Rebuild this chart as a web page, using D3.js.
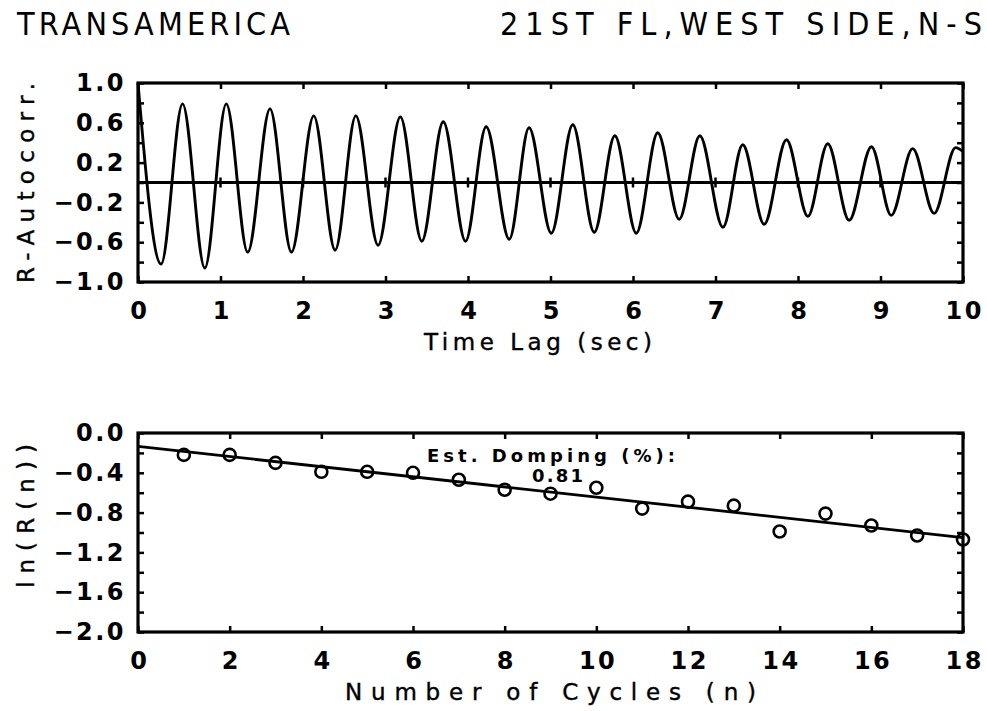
<!DOCTYPE html>
<html>
<head>
<meta charset="utf-8">
<script src="https://cdn.jsdelivr.net/npm/d3@7"></script>
<style>
  body { margin: 0; background: #fff; }
  svg { display: block; }
  .tick-label { font-family: "DejaVu Sans", "Liberation Sans", sans-serif; font-weight: bold; font-size: 24px; letter-spacing: 2.5px; fill: #000; }
  .axis-title { font-family: "DejaVu Sans", "Liberation Sans", sans-serif; font-size: 23px; fill: #000; stroke: #000; stroke-width: 0.4px; }
  .head { font-family: "DejaVu Sans Condensed", "Liberation Sans Narrow", "DejaVu Sans", sans-serif; font-size: 32px; fill: #000; }
  .note { font-family: "DejaVu Sans", "Liberation Sans", sans-serif; font-weight: bold; font-size: 18px; fill: #000; }
</style>
</head>
<body>
<svg id="chart" width="987" height="711"></svg>
<script>
// Autocorrelation extrema (time lag in seconds, correlation value)
const lagTimes = [0.00, 0.28, 0.54, 0.81, 1.07, 1.33, 1.60, 1.86, 2.13, 2.39,
                  2.64, 2.91, 3.18, 3.44, 3.70, 3.97, 4.22, 4.50, 4.74, 5.01,
                  5.27, 5.53, 5.78, 6.04, 6.30, 6.56, 6.81, 7.09, 7.33, 7.59,
                  7.86, 8.12, 8.36, 8.62, 8.89, 9.13, 9.39, 9.65, 9.91, 10.00];
const autocorr = [1.00, -0.82, 0.79, -0.86, 0.79, -0.70, 0.74, -0.70, 0.67, -0.68,
                  0.67, -0.63, 0.66, -0.59, 0.61, -0.59, 0.56, -0.57, 0.55, -0.51,
                  0.58, -0.50, 0.47, -0.51, 0.50, -0.37, 0.47, -0.45, 0.38, -0.42,
                  0.43, -0.34, 0.39, -0.38, 0.36, -0.33, 0.34, -0.31, 0.35, 0.31];

// Log of peak amplitude for each cycle
const cycles  = [1, 2, 3, 4, 5, 6, 7, 8, 9, 10, 11, 12, 13, 14, 15, 16, 17, 18];
const lnPeaks = [-0.22, -0.22, -0.30, -0.39, -0.39, -0.40, -0.47, -0.57, -0.61,
                 -0.55, -0.76, -0.69, -0.73, -0.99, -0.81, -0.93, -1.03, -1.07];

// Estimated damping ratio (%)
const dampingPct = 0.81;

// Titles and tick labels
const titleLeft = "TRANSAMERICA";
const titleRight = "21ST FL,WEST SIDE,N-S";
const lagTicks = [0, 1, 2, 3, 4, 5, 6, 7, 8, 9, 10];
const rTicks = [1.0, 0.6, 0.2, -0.2, -0.6, -1.0];
const rLabels = ["1.0", "0.6", "0.2", "\u22120.2", "\u22120.6", "\u22121.0"];
const rMinor = [1.0, 0.8, 0.6, 0.4, 0.2, 0, -0.2, -0.4, -0.6, -0.8, -1.0];
const cycleTicks = [0, 2, 4, 6, 8, 10, 12, 14, 16, 18];
const lnTicks = [0.0, -0.4, -0.8, -1.2, -1.6, -2.0];
const lnLabels = ["0.0", "\u22120.4", "\u22120.8", "\u22121.2", "\u22121.6", "\u22122.0"];
const lnMinor = [0, -0.2, -0.4, -0.6, -0.8, -1.0, -1.2, -1.4, -1.6, -1.8, -2.0];

const svg = d3.select("#chart");
const ink = "#000";

// ---------- Titles ----------
svg.append("text").attr("class", "head")
  .attr("x", 17).attr("y", 35)
  .attr("textLength", 273).attr("lengthAdjust", "spacing")
  .text(titleLeft);
svg.append("text").attr("class", "head")
  .attr("x", 500).attr("y", 35)
  .attr("textLength", 482).attr("lengthAdjust", "spacing")
  .text(titleRight);

// Helper: draw a framed panel with inward ticks on all four sides
function panel(x, y, xMajor, xLabels, yMajor, yLabels, yMinor) {
  const [x0, x1] = x.range();
  const [y1, y0] = y.range();
  const g = svg.append("g");
  const tick = 6;

  // Bottom axis with labels, ticks pointing inward
  const bottom = g.append("g").attr("transform", `translate(0,${y1})`)
    .call(d3.axisBottom(x).tickValues(xMajor)
      .tickFormat((d, i) => xLabels[i]).tickSizeInner(-tick).tickSizeOuter(0).tickPadding(20));
  // Top axis ticks only
  const top = g.append("g").attr("transform", `translate(0,${y0})`)
    .call(d3.axisTop(x).tickValues(xMajor).tickFormat("").tickSizeInner(-tick).tickSizeOuter(0));
  // Left axis with labels
  const left = g.append("g").attr("transform", `translate(${x0},0)`)
    .call(d3.axisLeft(y).tickValues(yMajor)
      .tickFormat((d, i) => yLabels[i]).tickSize(0).tickPadding(12));
  // Left and right minor ticks
  const leftMinor = g.append("g").attr("transform", `translate(${x0},0)`)
    .call(d3.axisLeft(y).tickValues(yMinor).tickFormat("").tickSizeInner(-tick).tickSizeOuter(0));
  const right = g.append("g").attr("transform", `translate(${x1},0)`)
    .call(d3.axisRight(y).tickValues(yMinor).tickFormat("").tickSizeInner(-tick).tickSizeOuter(0));

  [bottom, top, left, leftMinor, right].forEach(a => {
    a.select(".domain").remove();
    a.selectAll("line").attr("stroke", ink).attr("stroke-width", 2.5);
    a.selectAll("text").attr("class", "tick-label").attr("font-size", null).attr("font-family", null);
  });
  bottom.selectAll("text").attr("dy", "0.71em").attr("dx", "1.25");

  // Frame
  g.append("rect")
    .attr("x", x0).attr("y", y0)
    .attr("width", x1 - x0).attr("height", y1 - y0)
    .attr("fill", "none").attr("stroke", ink).attr("stroke-width", 3.2);
  return g;
}

// ---------- Upper panel: autocorrelation vs time lag ----------
const xLag = d3.scaleLinear().domain([0, 10]).range([138, 963]);
const yR = d3.scaleLinear().domain([-1, 1]).range([282, 83]);

const upper = panel(xLag, yR, lagTicks, lagTicks.map(String), rTicks, rLabels, rMinor);

// Zero reference line with small ticks at each second
upper.append("line")
  .attr("x1", xLag(0)).attr("x2", xLag(10))
  .attr("y1", yR(0)).attr("y2", yR(0))
  .attr("stroke", ink).attr("stroke-width", 3.2);
upper.selectAll(".zero-tick").data(lagTicks.slice(1, -1)).join("line")
  .attr("class", "zero-tick")
  .attr("x1", d => xLag(d)).attr("x2", d => xLag(d))
  .attr("y1", yR(0) - 5).attr("y2", yR(0) + 5)
  .attr("stroke", ink).attr("stroke-width", 2.5);

const rSeries = lagTimes.map((t, i) => [t, autocorr[i]]);
upper.append("path")
  .datum(rSeries)
  .attr("fill", "none").attr("stroke", ink).attr("stroke-width", 2.9)
  .attr("stroke-linejoin", "round")
  .attr("d", d3.line().x(d => xLag(d[0])).y(d => yR(d[1])).curve(d3.curveMonotoneX));

svg.append("text").attr("class", "axis-title")
  .attr("x", 424).attr("y", 350)
  .attr("textLength", 228).attr("lengthAdjust", "spacing")
  .text("Time Lag (sec)");
svg.append("text").attr("class", "axis-title")
  .attr("transform", "translate(34,283) rotate(-90)")
  .attr("textLength", 200).attr("lengthAdjust", "spacing")
  .text("R-Autocorr.");

// ---------- Lower panel: log peak amplitude vs cycle number ----------
const xCyc = d3.scaleLinear().domain([0, 18]).range([138, 963]);
const yLn = d3.scaleLinear().domain([-2, 0]).range([632, 433]);

const lower = panel(xCyc, yLn, cycleTicks, cycleTicks.map(String), lnTicks, lnLabels, lnMinor);

// Fitted decay line: slope follows from the damping ratio, intercept from the points
const slope = -2 * Math.PI * dampingPct / 100;
const intercept = d3.mean(lnPeaks) - slope * d3.mean(cycles);
lower.append("path")
  .datum([0, 18].map(n => [n, intercept + slope * n]))
  .attr("fill", "none").attr("stroke", ink).attr("stroke-width", 2.8)
  .attr("d", d3.line().x(d => xCyc(d[0])).y(d => yLn(d[1])));

lower.selectAll(".pt").data(cycles.map((n, i) => [n, lnPeaks[i]])).join("circle")
  .attr("class", "pt")
  .attr("cx", d => xCyc(d[0])).attr("cy", d => yLn(d[1]))
  .attr("r", 6)
  .attr("fill", "none").attr("stroke", ink).attr("stroke-width", 2.6);

svg.append("text").attr("class", "note")
  .attr("x", 427).attr("y", 462)
  .attr("textLength", 248).attr("lengthAdjust", "spacing")
  .text("Est. Domping (%):");
svg.append("text").attr("class", "note")
  .attr("x", 532).attr("y", 482)
  .attr("textLength", 51).attr("lengthAdjust", "spacing")
  .text(dampingPct.toFixed(2));

svg.append("text").attr("class", "axis-title")
  .attr("x", 345).attr("y", 700)
  .attr("textLength", 411).attr("lengthAdjust", "spacing")
  .text("Number of Cycles (n)");
svg.append("text").attr("class", "axis-title")
  .attr("transform", "translate(34,588) rotate(-90)")
  .attr("textLength", 144).attr("lengthAdjust", "spacing")
  .text("ln(R(n))");
</script>
</body>
</html>
